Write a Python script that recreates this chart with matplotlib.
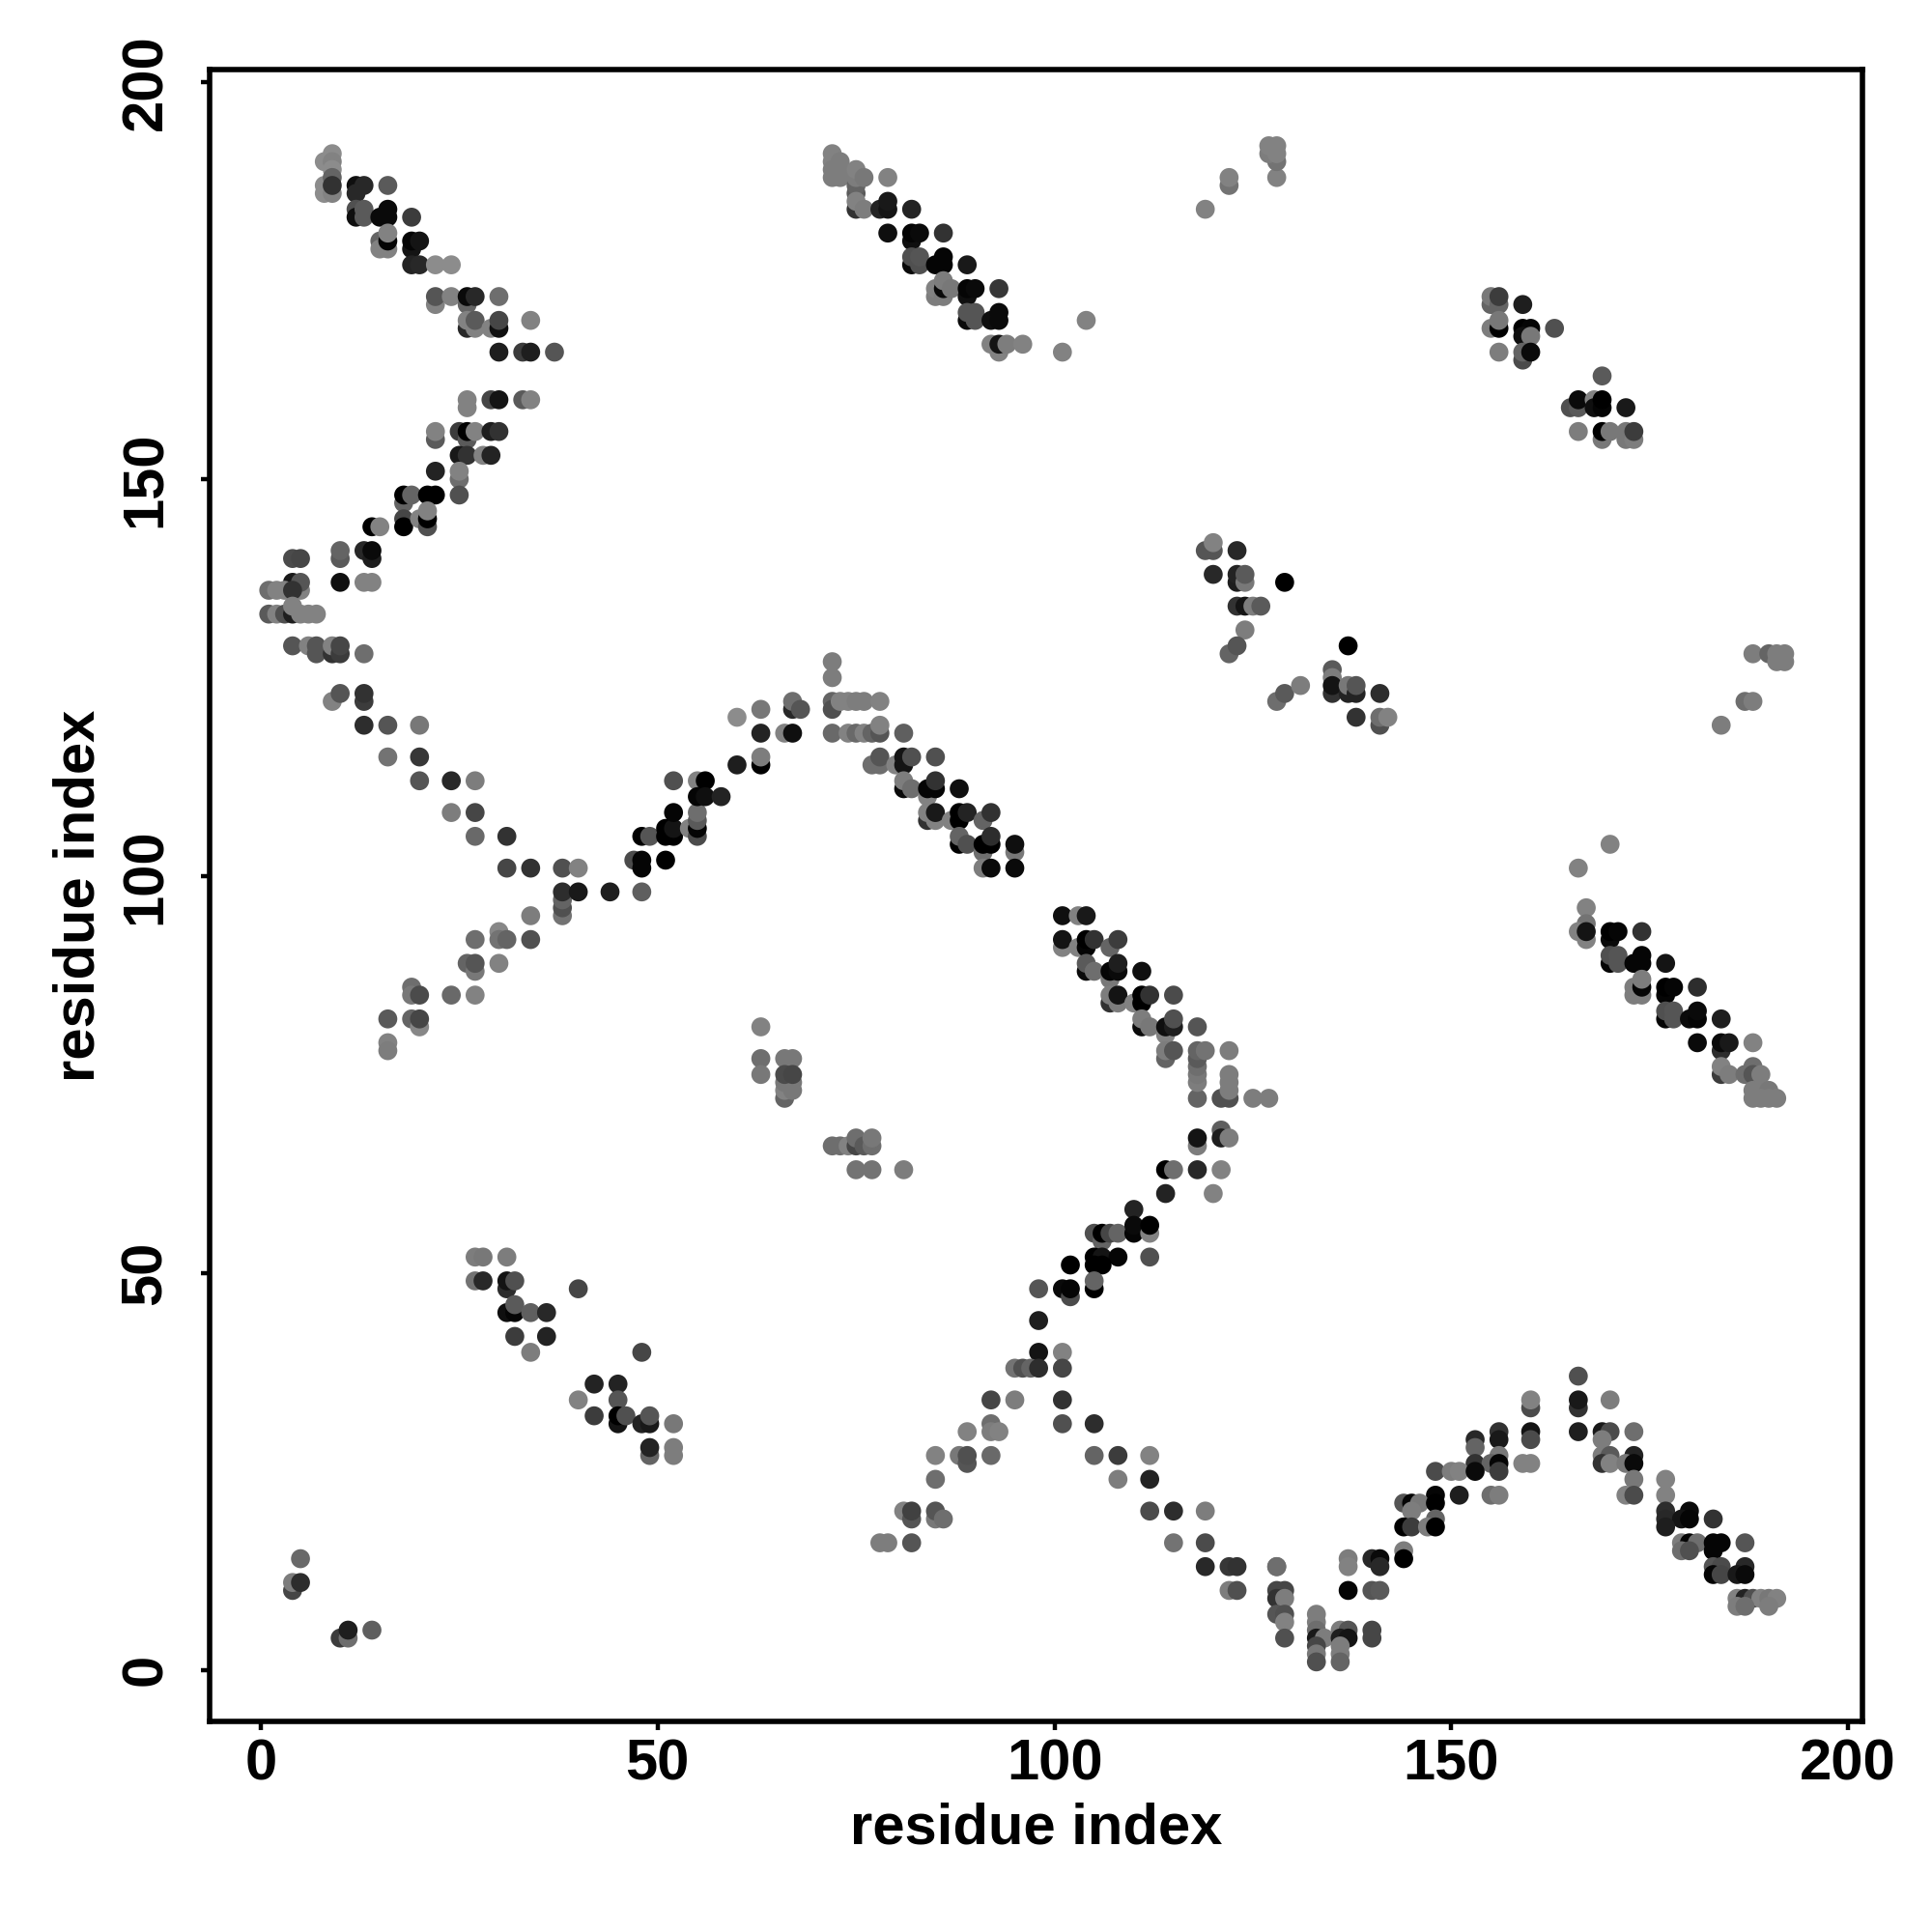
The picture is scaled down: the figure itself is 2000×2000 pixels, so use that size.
import matplotlib
matplotlib.use("Agg")
import matplotlib.pyplot as plt

# (residue i, residue j, grey level 0-255)
top_left = [
    (8, 190, 140), (8, 187, 140), (8, 186, 140), (9, 186, 130), (9, 191, 140), (9, 190, 130), (9, 189, 140),
    (9, 188, 100), (9, 187, 50), (12, 187, 15), (12, 186, 40), (13, 187, 40), (16, 187, 90),
    (12, 184, 80), (12, 183, 15), (13, 183, 90), (13, 184, 90), (15, 183, 10), (16, 184, 10), (16, 183, 10),
    (19, 183, 60), (15, 180, 100), (15, 179, 130), (16, 179, 130), (16, 180, 5), (16, 181, 130),
    (19, 179, 20), (19, 180, 5), (20, 180, 20), (19, 177, 35), (20, 177, 40), (22, 177, 140), (24, 177, 140),
    (22, 172, 130), (22, 173, 85), (24, 173, 130), (26, 172, 100), (26, 173, 10), (27, 173, 40), (30, 173, 110),
    (26, 169, 40), (26, 170, 130), (27, 169, 130), (27, 170, 90), (29, 169, 130), (30, 169, 15), (30, 170, 70),
    (34, 170, 130), (30, 166, 30), (33, 166, 60), (34, 166, 30), (37, 166, 85),
    (26, 160, 130), (26, 159, 130), (29, 160, 70), (30, 160, 20), (33, 160, 90), (34, 160, 130),
    (22, 155, 90), (22, 156, 130), (25, 156, 60), (26, 155, 90), (26, 156, 0), (27, 156, 130),
    (29, 156, 30), (30, 156, 50), (25, 153, 25), (26, 153, 50), (28, 153, 130), (29, 153, 35),
]
left_arm = [
    (22, 151, 35), (25, 150, 110), (25, 151, 130), (18, 147, 100), (18, 148, 0), (19, 148, 100), (21, 148, 0),
    (22, 148, 0), (25, 148, 80), (18, 145, 70), (18, 144, 0), (20, 145, 130), (21, 144, 80), (21, 145, 0),
    (21, 146, 130), (14, 144, 0), (15, 144, 130), (4, 140, 75), (5, 140, 70), (10, 140, 90), (10, 141, 100),
    (13, 141, 40), (14, 140, 30), (14, 141, 10), (4, 137, 25), (5, 136, 130), (5, 137, 85), (10, 137, 15),
    (13, 137, 130), (14, 137, 130), (1, 136, 110), (2, 136, 130), (3, 136, 130), (4, 136, 50),
    (1, 133, 90), (2, 133, 130), (3, 133, 80), (4, 133, 30), (4, 134, 130), (5, 133, 130), (6, 133, 130), (7, 133, 130),
    (4, 129, 85), (6, 129, 130), (7, 128, 85), (7, 129, 85), (9, 128, 50), (9, 129, 130), (10, 128, 60), (10, 129, 70),
    (13, 128, 110), (9, 122, 130), (10, 123, 85), (13, 122, 60), (13, 123, 50),
    (13, 119, 45), (16, 119, 85), (20, 119, 120), (16, 115, 115), (20, 115, 55),
    (20, 112, 85), (24, 112, 40), (27, 112, 125), (24, 108, 125), (27, 108, 70), (27, 105, 105), (31, 105, 50),
    (31, 101, 70), (34, 101, 50),
]
left_up = [
    (38, 101, 80), (40, 101, 130), (38, 95, 115), (38, 96, 80), (38, 97, 100), (38, 98, 45), (40, 98, 25), (44, 98, 30),
    (48, 98, 95), (34, 95, 125), (27, 92, 110), (30, 93, 135), (30, 92, 115), (31, 92, 100), (34, 92, 80),
    (26, 89, 100), (27, 88, 120), (27, 89, 85), (30, 89, 130), (19, 86, 110), (19, 85, 120), (20, 85, 75),
    (24, 85, 105), (27, 85, 130), (16, 82, 90), (19, 82, 100), (20, 81, 135), (20, 82, 70), (16, 79, 130), (16, 78, 125),
]
mid_up = [
    (47, 102, 75), (48, 101, 5), (48, 102, 5), (51, 102, 0), (48, 105, 0), (49, 105, 85), (51, 105, 0), (51, 106, 0),
    (52, 105, 0), (52, 106, 20), (52, 108, 5), (54, 106, 130), (55, 105, 75), (55, 106, 5), (55, 107, 90),
    (55, 108, 110), (52, 112, 80), (55, 112, 130), (56, 112, 0), (55, 110, 5), (56, 110, 15), (58, 110, 35),
    (60, 114, 30), (63, 114, 0), (63, 115, 125), (60, 120, 140), (63, 118, 35), (63, 121, 120), (66, 118, 130),
    (67, 118, 15), (67, 121, 40), (67, 122, 110), (68, 121, 85),
]
mid_top = [
    (72, 127, 125), (72, 125, 125), (72, 122, 100), (72, 121, 80), (73, 122, 130), (74, 122, 130), (75, 122, 125),
    (76, 122, 125), (78, 122, 130), (72, 118, 105), (74, 118, 130), (75, 118, 105), (76, 118, 130), (77, 118, 100),
    (78, 118, 85), (78, 119, 130), (81, 118, 95), (77, 114, 110), (78, 114, 110), (78, 115, 85), (80, 114, 130),
    (81, 114, 20), (81, 115, 20), (82, 115, 80), (85, 115, 80), (81, 111, 10), (81, 112, 125), (82, 111, 110),
    (84, 110, 130), (84, 111, 5), (85, 111, 5), (85, 112, 50), (88, 111, 15), (84, 107, 50), (84, 108, 130),
    (85, 107, 130), (85, 108, 25), (87, 107, 130), (88, 107, 0), (88, 108, 0), (89, 108, 35), (91, 107, 100),
    (92, 108, 50), (88, 104, 0), (88, 105, 100), (89, 104, 80), (91, 103, 110), (91, 104, 0), (92, 104, 0),
    (92, 105, 45), (95, 103, 120), (95, 104, 15), (91, 101, 125), (92, 101, 10), (95, 101, 10),
]
top_middle = [
    (72, 191, 130), (72, 190, 130), (72, 189, 125), (72, 188, 125), (73, 190, 125), (73, 189, 125), (73, 188, 125),
    (75, 186, 90), (75, 187, 100), (75, 188, 125), (75, 189, 130), (76, 188, 120), (79, 188, 130),
    (75, 184, 50), (75, 185, 130), (76, 184, 125), (78, 184, 35), (79, 184, 20), (79, 185, 25), (82, 184, 35),
    (79, 181, 15), (82, 180, 15), (82, 181, 5), (83, 181, 10), (86, 181, 50), (82, 177, 10), (82, 178, 80),
    (83, 177, 80), (83, 178, 85), (85, 177, 5), (86, 177, 5), (86, 178, 5), (89, 177, 25),
    (85, 173, 125), (85, 174, 130), (86, 173, 125), (86, 174, 10), (86, 175, 125), (87, 174, 120), (89, 173, 15),
    (89, 174, 5), (90, 174, 10), (93, 174, 55), (89, 170, 10), (89, 171, 85), (90, 170, 85), (90, 171, 85),
    (92, 170, 15), (93, 170, 10), (93, 171, 10), (104, 170, 130), (93, 166, 130), (92, 167, 130), (93, 167, 20),
    (94, 167, 125), (96, 167, 130), (101, 166, 130),
]
mid_down = [
    (101, 91, 130), (101, 92, 20), (101, 95, 15), (103, 91, 130), (103, 95, 130), (104, 95, 25), (104, 91, 5),
    (104, 92, 0), (105, 92, 50), (107, 91, 100), (108, 92, 60), (104, 88, 10), (104, 89, 90), (105, 88, 110),
    (107, 87, 120), (107, 88, 5), (108, 88, 10), (108, 89, 30), (111, 88, 15), (107, 84, 50), (107, 85, 125),
    (108, 84, 125), (108, 85, 20), (110, 84, 130), (111, 84, 0), (111, 85, 0), (112, 85, 50), (115, 85, 75),
    (111, 81, 10), (111, 82, 125), (112, 81, 120), (114, 80, 130), (114, 81, 15), (115, 81, 30), (115, 82, 80),
    (118, 81, 85), (114, 77, 100), (114, 78, 125), (115, 78, 85), (118, 72, 100), (118, 74, 125), (118, 75, 120),
    (118, 76, 110), (118, 77, 90), (118, 78, 100), (119, 78, 115), (122, 78, 125), (121, 72, 80), (122, 72, 80),
    (122, 73, 125), (122, 74, 125), (122, 75, 125), (125, 72, 125), (127, 72, 125),
    (121, 68, 95), (118, 66, 125), (118, 67, 20), (121, 67, 30), (122, 67, 125),
]
lower_mid = [
    (114, 63, 0), (115, 63, 110), (118, 63, 40), (121, 63, 130), (114, 60, 35), (120, 60, 130), (110, 58, 35),
    (105, 55, 80), (106, 54, 100), (106, 55, 0), (107, 55, 70), (108, 55, 100), (110, 55, 5), (110, 56, 10),
    (112, 55, 130), (112, 56, 0), (105, 52, 0), (106, 52, 20), (108, 52, 5), (112, 52, 80), (102, 51, 0),
    (105, 51, 0), (106, 51, 0), (98, 48, 85), (101, 48, 10), (102, 47, 75), (102, 48, 5), (105, 48, 0), (105, 49, 100),
    (98, 44, 30), (98, 40, 20), (101, 40, 130), (95, 38, 115), (96, 38, 80), (97, 38, 100), (98, 38, 45), (101, 38, 70),
    (92, 34, 70), (95, 34, 125), (101, 34, 50), (92, 31, 110), (101, 31, 80), (105, 31, 45), (89, 30, 130), (92, 30, 125),
    (93, 30, 130), (85, 27, 130), (88, 27, 120), (89, 26, 85), (89, 27, 80), (92, 27, 105), (105, 27, 100), (108, 27, 60),
    (112, 27, 130), (85, 24, 110), (108, 24, 125), (112, 24, 35), (81, 20, 130), (82, 19, 85), (82, 20, 65),
    (85, 19, 120), (85, 20, 85), (86, 19, 110), (112, 20, 75), (115, 20, 45), (119, 20, 125), (78, 16, 125),
    (79, 16, 125), (82, 16, 85), (115, 16, 115), (119, 16, 75), (119, 13, 40), (122, 13, 55), (123, 13, 50), (128, 13, 105),
    (122, 10, 125), (123, 10, 80),
]
bottom_right = [
    (166, 37, 80), (160, 33, 75), (160, 34, 130), (166, 33, 50), (166, 34, 25), (170, 34, 125), (156, 30, 50), (160, 30, 20),
    (166, 30, 30), (169, 30, 25), (170, 30, 75), (173, 30, 110), (153, 29, 40), (156, 29, 25), (160, 29, 75), (169, 29, 125),
    (153, 28, 100), (156, 27, 120), (169, 27, 125), (170, 27, 90), (173, 27, 35), (153, 26, 50), (155, 26, 100),
    (156, 26, 5), (159, 26, 130), (160, 26, 130), (169, 26, 50), (170, 26, 130), (172, 26, 120), (173, 26, 10),
    (148, 25, 75), (150, 25, 125), (151, 25, 130), (153, 25, 10), (156, 25, 60), (173, 24, 120), (177, 24, 130),
    (148, 22, 5), (151, 22, 30), (155, 22, 110), (156, 22, 125), (172, 22, 130), (173, 22, 75), (177, 22, 130),
    (144, 21, 85), (145, 21, 5), (146, 21, 120), (148, 21, 0), (145, 20, 125), (177, 20, 45), (180, 20, 10),
    (148, 19, 100), (177, 19, 40), (179, 19, 20), (180, 19, 5), (183, 19, 50), (144, 18, 0), (145, 18, 60), (147, 18, 125),
    (148, 18, 0), (177, 18, 30), (179, 16, 125), (180, 16, 5), (181, 16, 110), (183, 16, 5), (184, 16, 5), (187, 16, 85),
    (179, 15, 110), (180, 15, 80), (183, 15, 5), (144, 15, 125), (137, 14, 125), (140, 14, 40), (141, 14, 10), (144, 14, 0),
    (128, 13, 110), (137, 13, 130), (141, 13, 40), (183, 13, 85), (184, 13, 75), (187, 13, 40), (183, 12, 5), (184, 12, 70),
    (186, 12, 25), (187, 12, 10), (128, 10, 70), (129, 10, 70), (137, 10, 5), (140, 10, 85), (141, 10, 90),
    (128, 9, 50), (129, 9, 125), (186, 9, 130), (187, 9, 35), (188, 9, 80), (189, 9, 130), (190, 9, 120), (191, 9, 130),
    (186, 8, 125), (187, 8, 110), (190, 8, 125), (128, 7, 85), (129, 7, 80), (133, 7, 125), (129, 6, 130), (133, 6, 125),
    (133, 5, 110), (136, 5, 125), (137, 5, 85), (140, 5, 70), (129, 4, 80), (133, 4, 25), (134, 4, 125), (136, 4, 30),
    (137, 4, 20), (140, 4, 70), (133, 3, 70), (136, 3, 125), (133, 2, 120), (136, 2, 125), (133, 1, 80), (136, 1, 100),
]
right_strand = [
    (166, 101, 130), (170, 104, 130), (167, 96, 130), (167, 94, 115), (166, 93, 130), (167, 92, 130), (167, 93, 20),
    (170, 92, 10), (170, 93, 0), (171, 93, 5), (174, 93, 50), (170, 89, 5), (170, 90, 80), (171, 89, 85), (171, 90, 85),
    (173, 89, 5), (174, 89, 5), (174, 90, 5), (177, 89, 20), (173, 85, 125), (173, 86, 125), (174, 85, 125), (174, 86, 5),
    (174, 87, 125), (177, 85, 5), (177, 86, 0), (178, 86, 5), (181, 86, 45), (177, 82, 5), (177, 83, 80), (178, 82, 85),
    (178, 83, 85), (180, 82, 10), (181, 82, 5), (181, 83, 10), (184, 82, 30), (181, 79, 10), (184, 78, 45), (184, 79, 10),
    (185, 79, 25), (188, 79, 130), (184, 75, 60), (184, 76, 130), (185, 75, 125), (187, 75, 110), (188, 76, 110),
    (188, 75, 85), (189, 75, 125), (188, 73, 125), (189, 73, 125), (190, 73, 120), (188, 72, 125), (189, 72, 125),
    (190, 72, 125), (191, 72, 125),
]
upper_right = [
    (119, 184, 130), (122, 187, 115), (122, 188, 130), (128, 188, 130), (128, 190, 115), (127, 191, 125), (128, 191, 130),
    (127, 192, 130), (128, 192, 130), (155, 172, 100), (155, 173, 120), (156, 172, 100), (156, 173, 60), (159, 172, 30),
    (155, 169, 125), (156, 169, 0), (156, 170, 120), (159, 169, 0), (160, 169, 5), (163, 169, 80), (159, 168, 15),
    (160, 168, 120), (156, 166, 125), (159, 165, 75), (159, 166, 100), (160, 166, 10), (169, 163, 90), (165, 159, 80),
    (166, 159, 90), (166, 160, 10), (168, 160, 130), (168, 159, 15), (169, 159, 5), (169, 160, 0), (172, 159, 25),
    (166, 156, 125), (169, 155, 120), (169, 156, 0), (170, 156, 120), (172, 155, 120), (172, 156, 120), (173, 155, 125),
    (173, 156, 60),
]
mid_right = [
    (119, 141, 85), (120, 141, 85), (120, 142, 130), (123, 141, 40), (120, 138, 40), (123, 137, 30), (123, 138, 35),
    (124, 137, 120), (124, 138, 90), (129, 137, 0), (123, 134, 50), (124, 134, 20), (125, 134, 125), (126, 134, 90),
    (124, 131, 125), (122, 128, 100), (123, 129, 85), (137, 129, 0), (128, 122, 110), (129, 123, 90), (131, 124, 125),
    (135, 126, 90), (135, 125, 125), (135, 123, 50), (135, 124, 20), (137, 123, 35), (137, 124, 120), (138, 123, 35),
    (138, 124, 85), (141, 123, 45), (138, 120, 50), (141, 119, 80), (141, 120, 110), (142, 120, 130),
    (188, 128, 125), (190, 128, 100), (191, 127, 125), (191, 128, 125), (192, 127, 125), (192, 128, 125),
    (187, 122, 110), (188, 122, 125), (184, 119, 125),
]
small_clusters = [
    (27, 52, 125), (28, 52, 120), (31, 52, 125), (27, 49, 115), (28, 49, 40), (31, 48, 45), (31, 49, 20), (32, 49, 80),
    (40, 48, 70), (31, 45, 15), (32, 45, 5), (32, 46, 90), (34, 45, 95), (36, 45, 40), (32, 42, 60), (36, 42, 35),
    (34, 40, 125), (48, 40, 70), (42, 36, 35), (45, 36, 35), (40, 34, 130), (45, 34, 85), (42, 32, 60), (45, 31, 20),
    (45, 32, 0), (46, 32, 80), (48, 31, 35), (49, 31, 25), (49, 32, 85), (52, 31, 120), (49, 27, 100), (49, 28, 35),
    (52, 27, 125), (52, 28, 125), (63, 81, 130), (63, 77, 110), (63, 75, 120), (66, 77, 120), (67, 77, 120), (66, 72, 100),
    (66, 73, 130), (67, 73, 120), (66, 74, 120), (67, 74, 120), (66, 75, 75), (67, 75, 70),
    (72, 66, 110), (73, 66, 110), (74, 66, 130), (75, 66, 70), (75, 67, 110), (76, 66, 90), (77, 66, 110), (77, 67, 120),
    (75, 63, 115), (77, 63, 115), (81, 63, 125),
    (5, 14, 105), (4, 10, 70), (4, 11, 125), (5, 11, 45), (10, 4, 60), (11, 4, 110), (11, 5, 30), (14, 5, 95),
]

blocks = [top_left, left_arm, left_up, mid_up, mid_top, top_middle, mid_down, lower_mid,
          bottom_right, right_strand, upper_right, mid_right, small_clusters]

x_ticks = [0, 50, 100, 150, 200]
y_ticks = [0, 50, 100, 150, 200]

plt.rcParams["font.family"] = ["Liberation Sans", "DejaVu Sans"]
plt.rcParams["font.weight"] = "bold"

fig = plt.figure(figsize=(10, 10), dpi=200)
ax = fig.add_axes([217 / 2000, 1 - 1782 / 2000, 1711 / 2000, 1710 / 2000])

for block in blocks:
    xs = [p[0] for p in block]
    ys = [p[1] for p in block]
    cs = [(p[2] / 255, p[2] / 255, p[2] / 255) for p in block]
    ax.scatter(xs, ys, s=50, c=cs, linewidths=0, zorder=3)

ax.set_xlim(-6.45, 201.8)
ax.set_ylim(-6.5, 201.6)
ax.set_xticks(x_ticks)
ax.set_yticks(y_ticks)
ax.tick_params(axis="both", length=3.2, width=1.6, labelsize=21.5)
ax.tick_params(axis="x", pad=3.2)
ax.tick_params(axis="y", pad=10.5)
for label in ax.get_yticklabels():
    label.set_rotation(90)
    label.set_va("center")
for spine in ax.spines.values():
    spine.set_linewidth(2.0)

ax.set_xlabel("residue index", fontsize=21.5, fontweight="bold", va="center")
ax.set_ylabel("residue index", fontsize=21.5, fontweight="bold", va="center")
ax.xaxis.set_label_coords(0.5, -0.065)
ax.yaxis.set_label_coords(-0.079, 0.5)

fig.savefig("out.png", dpi=200, facecolor="white")
